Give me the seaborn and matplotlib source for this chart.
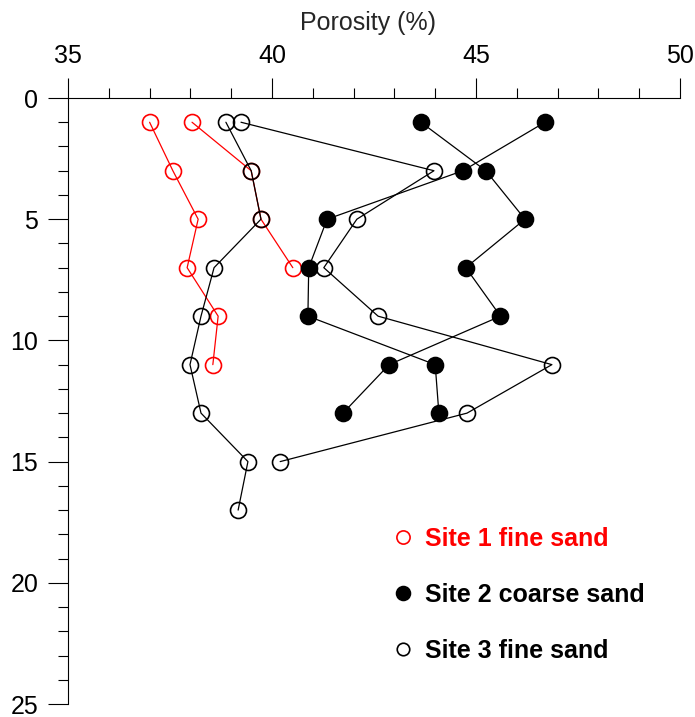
import pandas as pd
import numpy as np
import matplotlib.pyplot as plt
from matplotlib.lines import Line2D
import seaborn as sns

# depth below surface (cm) for each sampled layer
depth = [1, 3, 5, 7, 9, 11, 13, 15, 17]

# porosity (%), two profiles per site
site1_a = [37.00, 37.57, 38.19, 37.92, 38.68, 38.55]
site1_b = [38.04, 39.49, 39.73, 40.51]
site2_a = [43.65, 45.24, 46.20, 44.75, 45.60, 42.87, 41.74]
site2_b = [46.69, 44.68, 41.35, 40.90, 40.88, 44.00, 44.09]
site3_a = [39.24, 43.97, 42.08, 41.27, 42.60, 46.86, 44.78, 40.20]
site3_b = [38.87, 39.49, 39.73, 38.58, 38.26, 37.99, 38.26, 39.41, 39.17]

site_labels = ["Site 1 fine sand", "Site 2 coarse sand", "Site 3 fine sand"]
x_ticks = [35, 40, 45, 50]
y_ticks = [0, 5, 10, 15, 20, 25]

rows = []
for site, prof, vals in [(1, "a", site1_a), (1, "b", site1_b),
                         (2, "a", site2_a), (2, "b", site2_b),
                         (3, "a", site3_a), (3, "b", site3_b)]:
    for d, v in zip(depth, vals):
        rows.append({"site": site, "profile": prof, "depth": d, "porosity": v})
df = pd.DataFrame(rows)

sns.set_style("ticks")
plt.rcParams["font.family"] = ["Liberation Sans", "DejaVu Sans"]

fig = plt.figure(figsize=(6.95, 7.17), dpi=100)
ax = fig.add_axes([68 / 695, 1 - 704 / 717, 612 / 695, 606 / 717])

styles = {1: dict(color="red", mfc="none"),
          2: dict(color="black", mfc="black"),
          3: dict(color="black", mfc="none")}

for (site, prof), sub in df.groupby(["site", "profile"], sort=True):
    st = styles[site]
    sns.lineplot(data=sub, x="porosity", y="depth", sort=False, estimator=None,
                 color=st["color"], lw=0.9, marker="o", markersize=11.5,
                 markerfacecolor=st["mfc"], markeredgecolor=st["color"],
                 markeredgewidth=1.2, ax=ax)

ax.set_xlim(35, 50)
ax.set_ylim(25, 0)
ax.set_xticks(x_ticks)
ax.set_yticks(y_ticks)
ax.set_xticks(np.arange(35, 51, 1), minor=True)
ax.set_yticks(np.arange(0, 26, 1), minor=True)
ax.xaxis.tick_top()
ax.xaxis.set_label_position("top")
ax.set_xlabel("Porosity (%)", fontsize=18)
ax.xaxis.set_label_coords(0.49, 1.113)
ax.xaxis.label.set_verticalalignment("baseline")
ax.set_ylabel("")

for s in ["right", "bottom"]:
    ax.spines[s].set_visible(False)
for s in ["top", "left"]:
    ax.spines[s].set_linewidth(0.8)
    ax.spines[s].set_color("black")

ax.tick_params(which="major", length=14.4, width=0.8, labelsize=18, pad=7,
               color="black", labelcolor="black")
ax.tick_params(which="minor", length=7.2, width=0.8, color="black")
ax.tick_params(axis="x", which="both", top=True, bottom=False,
               labeltop=True, labelbottom=False)

handles = [
    Line2D([], [], ls="none", marker="o", ms=9.5, mfc="none", mec="red", mew=1.2),
    Line2D([], [], ls="none", marker="o", ms=10, mfc="black", mec="black", mew=1.2),
    Line2D([], [], ls="none", marker="o", ms=9, mfc="none", mec="black", mew=1.2),
]
ax.legend(handles, site_labels, loc="upper left", frameon=False,
          bbox_to_anchor=(393 / 695, 1 - 527 / 717), bbox_transform=fig.transFigure,
          borderpad=0, borderaxespad=0, handlelength=0.8, handletextpad=0.48,
          labelspacing=1.27, labelcolor=["red", "black", "black"],
          prop={"size": 18, "weight": "bold"})

fig.savefig("out.png", dpi=100)
plt.close(fig)
